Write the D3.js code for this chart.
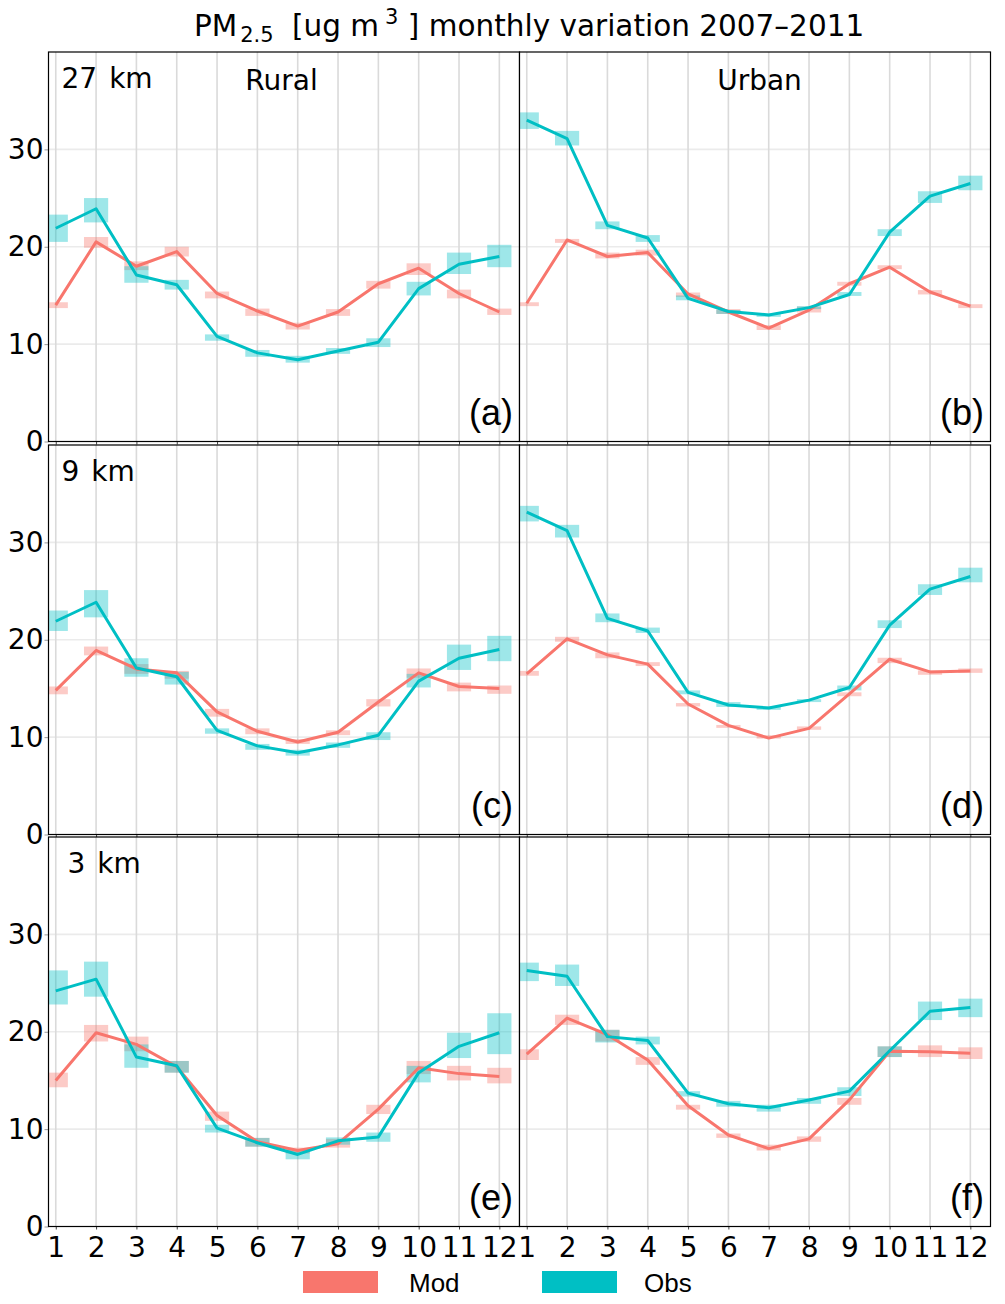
<!DOCTYPE html>
<html>
<head>
<meta charset="utf-8">
<script src="https://cdn.jsdelivr.net/npm/d3@7"></script>
<style>
  body { margin: 0; background: #fff; }
  text { font-family: "DejaVu Sans", sans-serif; fill: #000; }
</style>
</head>
<body>
<div id="chart"></div>
<script>
const svgWidth = 1005
const svgHeight = 1304

// categories
const months = [1, 2, 3, 4, 5, 6, 7, 8, 9, 10, 11, 12]
const yTicks = [0, 10, 20, 30]
const panelTags = ["(a)", "(b)", "(c)", "(d)", "(e)", "(f)"]
const resLabels = ["27 km", "9 km", "3 km"]
const areaLabels = ["Rural", "Urban"]
const seriesNames = ["Mod", "Obs"]

// model monthly means, one row per panel a..f
const modMean = [
  [14.0, 20.5, 18.0, 19.5, 15.2, 13.4, 11.85, 13.3, 16.2, 17.8, 15.2, 13.3],
  [14.2, 20.7, 19.0, 19.4, 15.15, 13.3, 11.65, 13.5, 16.2, 17.9, 15.35, 13.9],
  [14.8, 18.9, 17.0, 16.6, 12.6, 10.6, 9.5, 10.5, 13.6, 16.6, 15.2, 15.0],
  [16.5, 20.1, 18.45, 17.5, 13.4, 11.2, 9.9, 10.9, 14.45, 18.0, 16.7, 16.8],
  [15.0, 19.9, 18.7, 16.4, 11.4, 8.7, 7.8, 8.5, 12.05, 16.3, 15.7, 15.4],
  [17.7, 21.4, 19.7, 17.1, 12.4, 9.4, 8.0, 9.0, 13.0, 18.0, 17.95, 17.8]
]
const modLow = [
  [13.7, 19.9, 17.6, 19.0, 14.7, 12.9, 11.5, 12.9, 15.7, 17.1, 14.7, 13.0],
  [13.9, 20.4, 18.8, 19.1, 14.85, 13.1, 11.45, 13.25, 16.0, 17.7, 15.1, 13.7],
  [14.4, 18.4, 16.5, 16.0, 12.1, 10.3, 9.3, 10.2, 13.15, 16.1, 14.7, 14.45],
  [16.3, 19.8, 18.1, 17.3, 13.15, 10.95, 9.85, 10.75, 14.2, 17.6, 16.4, 16.6],
  [14.3, 19.0, 18.0, 15.8, 10.85, 8.2, 7.5, 8.1, 11.55, 15.65, 15.0, 14.7],
  [17.1, 20.7, 19.0, 16.6, 12.0, 9.1, 7.8, 8.7, 12.5, 17.4, 17.4, 17.2]
]
const modHigh = [
  [14.3, 21.0, 18.5, 20.0, 15.4, 13.65, 12.2, 13.6, 16.5, 18.3, 15.6, 13.65],
  [14.3, 20.8, 19.4, 19.7, 15.3, 13.6, 11.95, 13.85, 16.4, 18.1, 15.55, 14.1],
  [15.2, 19.3, 17.5, 16.8, 12.9, 10.9, 9.8, 10.7, 13.9, 17.05, 15.6, 15.3],
  [16.8, 20.3, 18.7, 17.7, 13.5, 11.25, 10.2, 11.1, 14.6, 18.15, 16.85, 17.05],
  [15.8, 20.7, 19.5, 17.0, 11.8, 9.1, 8.1, 9.0, 12.5, 17.0, 16.5, 16.3],
  [18.2, 21.75, 20.2, 17.4, 12.5, 9.55, 8.4, 9.25, 13.2, 18.5, 18.6, 18.4]
]

// observed monthly means
const obsMean = [
  [21.9, 23.9, 17.1, 16.1, 10.8, 9.1, 8.4, 9.3, 10.2, 15.7, 18.2, 19.0],
  [33.0, 31.1, 22.2, 20.9, 14.7, 13.35, 13.0, 13.75, 15.1, 21.5, 25.2, 26.5],
  [21.9, 23.85, 17.1, 16.2, 10.7, 9.1, 8.4, 9.2, 10.2, 15.75, 18.1, 19.0],
  [33.1, 31.2, 22.2, 20.9, 14.6, 13.3, 13.0, 13.8, 15.1, 21.5, 25.2, 26.5],
  [24.2, 25.4, 17.4, 16.5, 10.1, 8.6, 7.4, 8.8, 9.2, 15.8, 18.5, 19.9],
  [26.3, 25.7, 19.5, 19.1, 13.7, 12.6, 12.2, 13.0, 13.9, 18.05, 22.1, 22.5]
]
const obsLow = [
  [20.5, 22.5, 16.3, 15.6, 10.35, 8.7, 8.1, 9.0, 9.7, 15.0, 17.2, 17.9],
  [32.1, 30.4, 21.8, 20.5, 14.5, 13.1, 12.8, 13.6, 14.95, 21.1, 24.5, 25.8],
  [20.9, 22.3, 16.2, 15.4, 10.35, 8.7, 8.1, 8.9, 9.7, 15.1, 16.9, 17.8],
  [32.15, 30.5, 21.8, 20.7, 14.4, 13.1, 12.8, 13.6, 14.8, 21.2, 24.6, 25.9],
  [22.8, 23.6, 16.3, 15.8, 9.65, 8.2, 6.9, 8.4, 8.7, 14.8, 17.3, 17.7],
  [25.2, 24.7, 18.9, 18.7, 13.35, 12.3, 11.8, 12.6, 13.4, 17.4, 21.2, 21.5]
]
const obsHigh = [
  [23.3, 25.0, 18.0, 16.6, 11.0, 9.4, 8.8, 9.6, 10.6, 16.4, 19.4, 20.2],
  [33.8, 31.9, 22.6, 21.2, 15.0, 13.5, 13.15, 13.9, 15.35, 21.8, 25.7, 27.3],
  [23.0, 25.1, 18.1, 16.7, 10.9, 9.3, 8.7, 9.45, 10.5, 16.5, 19.5, 20.4],
  [33.75, 31.8, 22.7, 21.25, 14.8, 13.6, 13.15, 13.9, 15.3, 22.0, 25.7, 27.4],
  [26.3, 27.2, 18.7, 17.0, 10.45, 9.1, 7.85, 9.15, 9.65, 16.5, 19.9, 21.9],
  [27.1, 26.9, 20.2, 19.5, 13.9, 12.9, 12.5, 13.2, 14.3, 18.5, 23.1, 23.4]
]

const colors = { Mod: "#F8766D", Obs: "#00BFC4" }

// layout
const colLeft = [48.5, 519.5]
const panelWidth = 471
const rowTop = [52, 445, 837]
const panelHeight = 389.5
const boxWidth = 0.6

let svg = d3.select("#chart")
  .append("svg")
  .attr("width", svgWidth)
  .attr("height", svgHeight)

let defs = svg.append("defs")

// title
let title = svg.append("text")
  .attr("x", 194)
  .attr("y", 36)
  .style("font-size", "29.5px")
title.append("tspan").text("PM")
title.append("tspan").attr("dx", 3).attr("dy", 6).style("font-size", "21px").text("2.5")
title.append("tspan").attr("x", 292).attr("dy", -6).text("[ug m")
title.append("tspan").attr("dx", 6).attr("dy", -12).style("font-size", "21px").text("3")
title.append("tspan").attr("dy", 12).text("\u00a0] monthly variation 2007\u20132011")

function drawPanel(i) {
  let row = Math.floor(i / 2)
  let col = i % 2
  let x0 = colLeft[col]
  let y0 = rowTop[row]

  let x = d3.scaleLinear().domain([0.82, 12.5]).range([0, panelWidth])
  let y = d3.scaleLinear().domain([0, 40]).range([panelHeight, 0])

  let g = svg.append("g").attr("transform", `translate(${x0}, ${y0})`)

  defs.append("clipPath")
    .attr("id", `clip${i}`)
    .append("rect")
    .attr("width", panelWidth)
    .attr("height", panelHeight)

  let plot = g.append("g").attr("clip-path", `url(#clip${i})`)

  plot.append("rect")
    .attr("width", panelWidth)
    .attr("height", panelHeight)
    .attr("fill", "#fff")

  // grid
  plot.selectAll(".hgrid")
    .data(yTicks.slice(1))
    .enter()
    .append("line")
    .attr("x1", 0)
    .attr("x2", panelWidth)
    .attr("y1", d => y(d))
    .attr("y2", d => y(d))
    .attr("stroke", "#ebebeb")
    .attr("stroke-width", 1.6)

  plot.selectAll(".vgrid")
    .data(months)
    .enter()
    .append("line")
    .attr("x1", d => x(d))
    .attr("x2", d => x(d))
    .attr("y1", 0)
    .attr("y2", panelHeight)
    .attr("stroke", "#dadada")
    .attr("stroke-width", 1.6)

  let series = [
    { name: "Mod", mean: modMean[i], low: modLow[i], high: modHigh[i] },
    { name: "Obs", mean: obsMean[i], low: obsLow[i], high: obsHigh[i] }
  ]

  // uncertainty boxes
  series.forEach(s => {
    plot.append("g")
      .selectAll("rect")
      .data(months)
      .enter()
      .append("rect")
      .attr("x", d => x(d - boxWidth / 2))
      .attr("width", x(boxWidth) - x(0))
      .attr("y", (d, k) => y(s.high[k]))
      .attr("height", (d, k) => y(s.low[k]) - y(s.high[k]))
      .attr("fill", colors[s.name])
      .attr("opacity", 0.38)
  })

  // mean lines
  let line = d3.line()
    .x((d, k) => x(months[k]))
    .y(d => y(d))

  series.forEach(s => {
    plot.append("path")
      .datum(s.mean)
      .attr("d", line)
      .attr("fill", "none")
      .attr("stroke", colors[s.name])
      .attr("stroke-width", 3)
      .attr("stroke-linejoin", "round")
  })

  // y axis labels on left column
  if (col === 0) {
    let leftAxis = d3.axisLeft(y).tickValues(yTicks).tickSize(4).tickPadding(1)
    let ya = g.append("g").call(leftAxis)
    ya.select(".domain").remove()
    ya.selectAll("line").attr("stroke", "#999")
    ya.selectAll("text")
      .style("font-size", "28px")
      .style("font-family", "DejaVu Sans")
  }

  // x axis labels on the bottom row
  let bottomAxis = d3.axisBottom(x).tickValues(months).tickSize(3)
    .tickPadding(8).tickFormat(d3.format("d"))
  let xa = g.append("g")
    .attr("transform", `translate(0, ${panelHeight})`)
    .call(bottomAxis)
  xa.select(".domain").remove()
  xa.selectAll("line").attr("stroke", "#444")
  if (row === 2) {
    xa.selectAll("text")
      .style("font-size", "28px")
      .style("font-family", "DejaVu Sans")
  } else {
    xa.selectAll("text").remove()
  }

  // panel border
  g.append("rect")
    .attr("width", panelWidth)
    .attr("height", panelHeight)
    .attr("fill", "none")
    .attr("stroke", "#000")
    .attr("stroke-width", 1.2)

  // labels
  g.append("text")
    .attr("x", panelWidth - 6.5)
    .attr("y", panelHeight - 16.5)
    .attr("text-anchor", "end")
    .style("font-family", "Liberation Sans")
    .style("font-size", "36px")
    .text(panelTags[i])

  if (col === 0) {
    let res = resLabels[row].split(" ")
    let t = g.append("text")
      .attr("x", row === 2 ? 19 : 13)
      .attr("y", 36)
      .style("font-size", "28px")
    t.append("tspan").text(res[0])
    t.append("tspan").attr("dx", 12).text(res[1])
  }

  if (row === 0) {
    g.append("text")
      .attr("x", col === 0 ? 233 : 240)
      .attr("y", 38)
      .attr("text-anchor", "middle")
      .style("font-size", "28px")
      .text(areaLabels[col])
  }
}

d3.range(6).forEach(drawPanel)

// legend
let legendX = [303, 542]
let legend = svg.append("g")
  .selectAll("g")
  .data(seriesNames)
  .enter()
  .append("g")
  .attr("transform", (d, k) => `translate(${legendX[k]}, 1271)`)

legend.append("rect")
  .attr("width", 75)
  .attr("height", 22)
  .attr("fill", d => colors[d])

legend.append("text")
  .attr("x", (d, k) => k === 0 ? 106 : 102)
  .attr("y", 21)
  .style("font-family", "Liberation Sans")
  .style("font-size", "26px")
  .text(d => d)
</script>
</body>
</html>
